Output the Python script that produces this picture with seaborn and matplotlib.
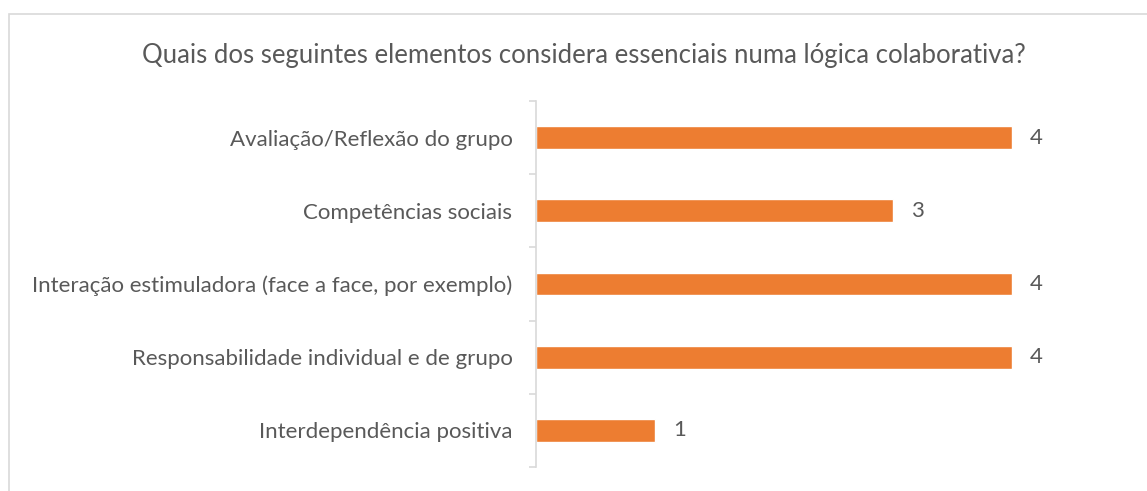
import matplotlib
matplotlib.use("Agg")
import matplotlib.pyplot as plt
import seaborn as sns
import pandas as pd
from matplotlib.patches import Rectangle

# dados do gráfico (de cima para baixo)
categorias = [
    "Avaliação/Reflexão do grupo",
    "Competências sociais",
    "Interação estimuladora (face a face, por exemplo)",
    "Responsabilidade individual e de grupo",
    "Interdependência positiva",
]
respostas = [4, 3, 4, 4, 1]
titulo = "Quais dos seguintes elementos considera essenciais numa lógica colaborativa?"

df = pd.DataFrame({"categoria": categorias, "respostas": respostas})

sns.set_theme(style="white")
plt.rcParams["font.family"] = ["Lato", "DejaVu Sans"]

cinza_txt = "#595959"
cinza_linha = "#D9D9D9"
laranja = "#ED7D31"

fig = plt.figure(figsize=(11.47, 4.91), dpi=100)
ax = fig.add_axes([536 / 1147, 24 / 491, 595 / 1147, 366 / 491])

sns.barplot(data=df, x="respostas", y="categoria", color=laranja,
            width=0.31, saturation=1, ax=ax, orient="h")

ax.set_xlim(0, 5)
ax.set_ylim(len(categorias) - 0.5, -0.5)
ax.set_xlabel("")
ax.set_ylabel("")
ax.set_xticks([])

for s in ["top", "right", "bottom"]:
    ax.spines[s].set_visible(False)
ax.spines["left"].set_color(cinza_linha)
ax.spines["left"].set_linewidth(1.2)

ax.tick_params(axis="y", which="major", length=0, pad=17,
               labelsize=16, labelcolor=cinza_txt)
ax.set_yticks(range(len(categorias)), minor=False)
ax.set_yticks([i - 0.5 for i in range(len(categorias) + 1)], minor=True)
ax.tick_params(axis="y", which="minor", length=5, width=1.2,
               color=cinza_linha, left=True)

for i, v in enumerate(respostas):
    ax.text(v + 0.15, i, str(v), va="center", ha="left",
            fontsize=16, color=cinza_txt)

fig.text(584 / 1147, 1 - 55 / 491, titulo, ha="center", va="center",
         fontsize=18.5, color=cinza_txt)

# moldura do gráfico
fig.patches.append(Rectangle((9 / 1147, -0.1), 1.2, 1 - 14 / 491 + 0.1,
                             transform=fig.transFigure, fill=False,
                             edgecolor=cinza_linha, linewidth=1.2))

fig.savefig("out.png", dpi=100)
